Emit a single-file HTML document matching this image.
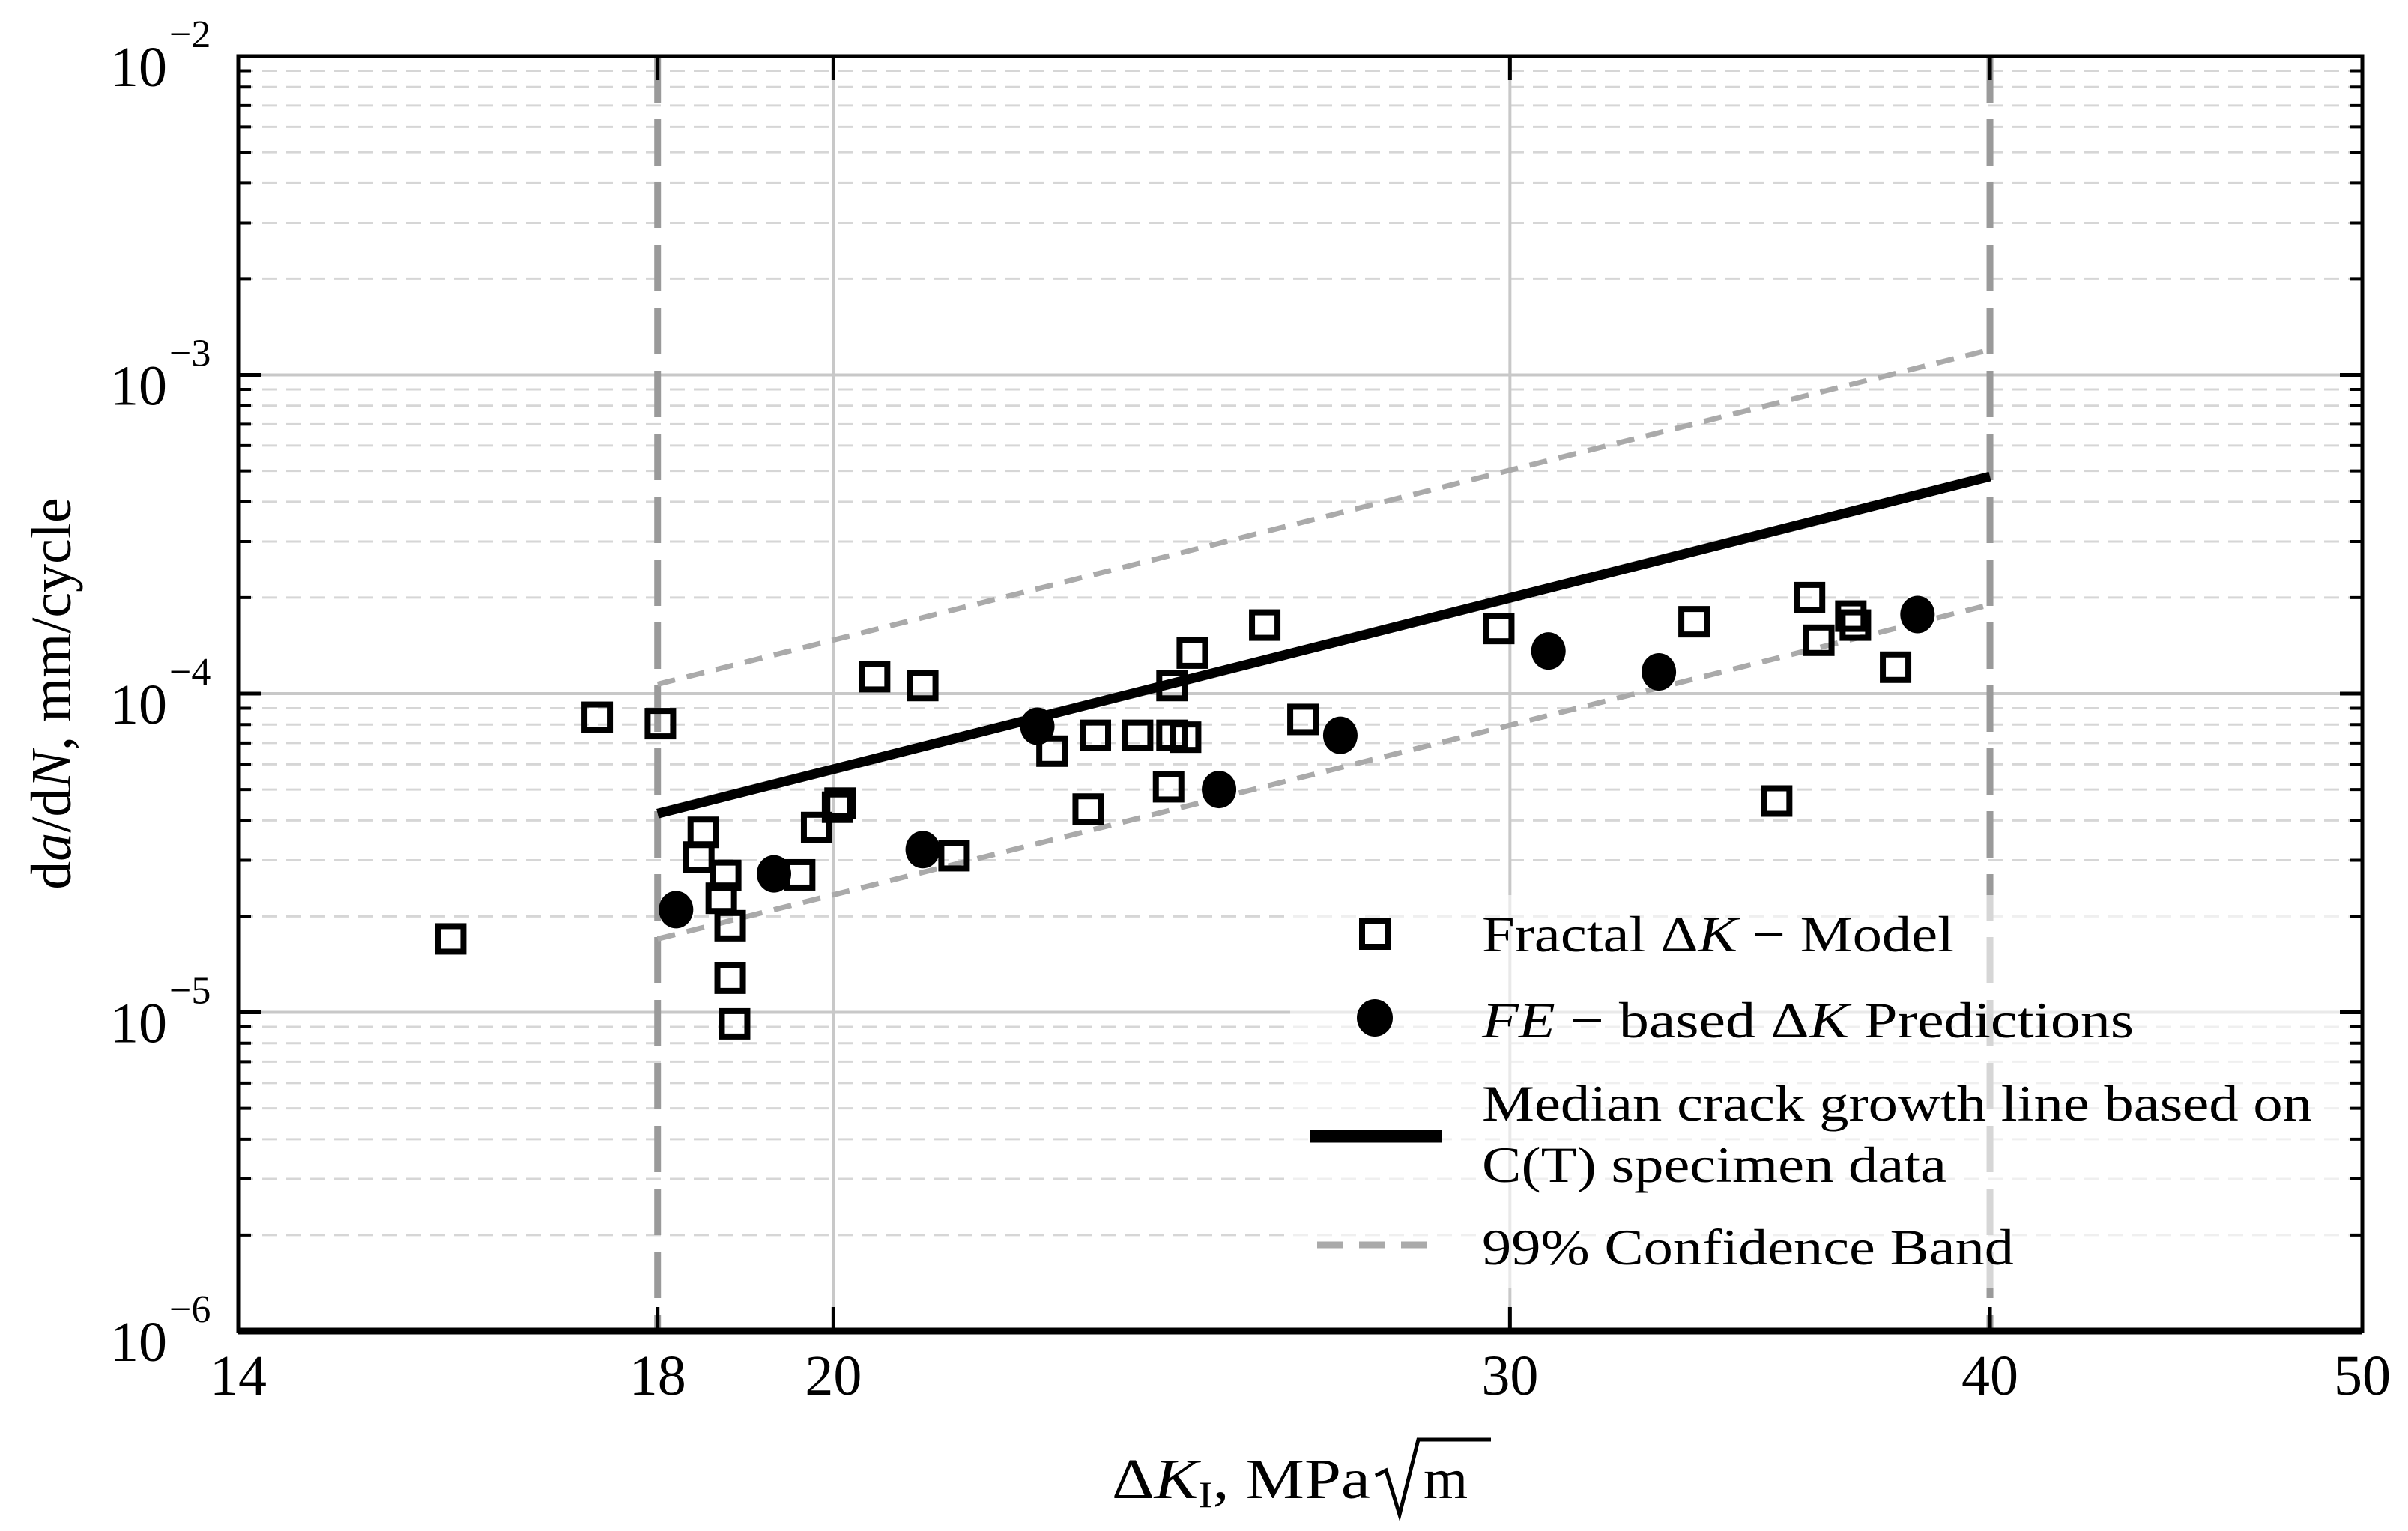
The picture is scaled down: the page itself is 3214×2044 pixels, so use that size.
<!DOCTYPE html>
<html><head><meta charset="utf-8"><style>
html,body{margin:0;padding:0;background:#fff;}
svg{display:block;font-family:"Liberation Serif",serif;}
</style></head><body>
<svg id="chart" width="3214" height="2044" viewBox="0 0 3214 2044" xmlns="http://www.w3.org/2000/svg">
<g id="grid"></g>
<g id="bands"></g>
<g id="marks"></g>
<g id="axes"></g>
<g id="legend"></g>
</svg>
<script>
const fractalK = [15.9,17.36,18.03,18.5,18.45,18.75,18.7,18.8,18.8,18.85,19.6,19.8,20.08,20.05,20.5,21.1,21.5,22.8,23.4,23.3,24.0,24.5,24.5,24.45,24.7,24.8,25.9,26.5,29.8,33.5,35.2,35.9,36.1,36.8,36.9,37.8];
const fractalRate = [1.70e-5,8.43e-5,8.05e-5,3.67e-5,3.07e-5,2.69e-5,2.28e-5,1.87e-5,1.28e-5,9.2e-6,2.7e-5,3.8e-5,4.53e-5,4.4e-5,1.13e-4,1.06e-4,3.1e-5,6.6e-5,7.4e-5,4.34e-5,7.4e-5,1.06e-4,7.4e-5,5.1e-5,7.3e-5,1.34e-4,1.64e-4,8.3e-5,1.6e-4,1.68e-4,4.6e-5,2.0e-4,1.47e-4,1.75e-4,1.64e-4,1.21e-4];
const feK = [18.2,19.3,21.1,22.6,25.2,27.1,30.7,32.8,38.3];
const feRate = [2.1e-5,2.72e-5,3.24e-5,7.9e-5,5.0e-5,7.4e-5,1.36e-4,1.17e-4,1.77e-4];
const lineK = [18,40];
const medianRate = [4.2e-5,4.8e-4];
const upperRate = [1.07e-4,1.2e-3];
const lowerRate = [1.7e-5,1.9e-4];
const xTicks = [14,18,20,30,40,50];
const yDecades = [-6,-5,-4,-3,-2];

const L=318,R=3153,T=75,B=1777;
const NS="http://www.w3.org/2000/svg";
function X(v){return L+(Math.log(v/14)/Math.log(50/14))*(R-L);}
function Y(v){return T+(-2-Math.log10(v))/4*(B-T);}
function mk(parent,tag,attrs){const e=document.createElementNS(NS,tag);for(const k in attrs)e.setAttribute(k,attrs[k]);parent.appendChild(e);return e;}
const grid=document.getElementById('grid'),bands=document.getElementById('bands'),marks=document.getElementById('marks'),axes=document.getElementById('axes'),legend=document.getElementById('legend');

for(let d=-6;d<-2;d++){
  for(let m=2;m<=9;m++){
    const y=Y(m*Math.pow(10,d));
    const g=mk(grid,'line',{x1:L,x2:R,y1:y,y2:y,stroke:'#d6d6d6','stroke-width':3,'stroke-dasharray':'20 12'});
    
    
    const t1=mk(axes,'line',{x1:L,x2:L+17,y1:y,y2:y,stroke:'#000','stroke-width':4});
    
    
    const t2=mk(axes,'line',{x1:R-17,x2:R,y1:y,y2:y,stroke:'#000','stroke-width':4});
    
    
  }
}
yDecades.forEach(d=>{
  const y=Y(Math.pow(10,d));
  if(d>-6&&d<-2){
    const g=mk(grid,'line',{x1:L,x2:R,y1:y,y2:y,stroke:'#c8c8c8','stroke-width':4});
    
    
  }
  const t1=mk(axes,'line',{x1:L,x2:L+30,y1:y,y2:y,stroke:'#000','stroke-width':5});
  
  
  const t2=mk(axes,'line',{x1:R-30,x2:R,y1:y,y2:y,stroke:'#000','stroke-width':5});
  
  
  const tx=mk(axes,'text',{x:223,y:y+40,'text-anchor':'end','font-size':76,fill:'#000'});
  tx.textContent='10';
  
  
  const ex=mk(axes,'text',{x:226,y:y-12,'font-size':52,fill:'#000'});
  ex.textContent='\u2212'+(-d);
  
  
});
xTicks.forEach(v=>{
  const x=X(v);
  if(v===20||v===30){
    const g=mk(grid,'line',{x1:x,x2:x,y1:T,y2:B,stroke:'#c8c8c8','stroke-width':4});
    
    
  }
  if(v===18||v===40){
    const g=mk(grid,'line',{x1:x,x2:x,y1:T,y2:B,stroke:'#9a9a9a','stroke-width':9,'stroke-dasharray':'62 22'});
    
    
  }
  const t=mk(axes,'line',{x1:x,x2:x,y1:B-32,y2:B,stroke:'#000','stroke-width':5});
  
  
  const t2=mk(axes,'line',{x1:x,x2:x,y1:T,y2:T+32,stroke:'#000','stroke-width':5});
  
  
  const tx=mk(axes,'text',{x:x,y:1862,'text-anchor':'middle','font-size':76,fill:'#000'});
  tx.textContent=String(v);
  
  
});
const lb=mk(grid,'rect',{x:1722,y:1195,width:1420,height:525,fill:'#fff','fill-opacity':0.6});



function fitLine(rates,attrs,name){
  const e=mk(bands,'line',Object.assign({x1:X(lineK[0]),y1:Y(rates[0]),x2:X(lineK[1]),y2:Y(rates[1])},attrs));
  
  
}
fitLine(upperRate,{stroke:'#aaa','stroke-width':7,'stroke-dasharray':'24 16'},'upper-confidence-band');
fitLine(lowerRate,{stroke:'#aaa','stroke-width':7,'stroke-dasharray':'24 16'},'lower-confidence-band');
fitLine(medianRate,{stroke:'#000','stroke-width':13},'median-line');

fractalK.forEach((k,i)=>{
  const s=mk(marks,'rect',{x:X(k)-17,y:Y(fractalRate[i])-17,width:34,height:34,fill:'none',stroke:'#000','stroke-width':8});
  
  
});
feK.forEach((k,i)=>{
  const c=mk(marks,'ellipse',{cx:X(k),cy:Y(feRate[i]),rx:23,ry:25,fill:'#000'});
  
  
});
const fr=mk(axes,'rect',{x:L,y:T,width:R-L,height:B-T,fill:'none',stroke:'#000','stroke-width':5});


const fb=mk(axes,'line',{x1:L,x2:R,y1:B,y2:B,stroke:'#000','stroke-width':9});



function ltext(y,html,len,name){
  const t=mk(legend,'text',{x:1978,y:y,'font-size':68,fill:'#000',textLength:len,lengthAdjust:'spacingAndGlyphs'});
  t.innerHTML=html;
  
  
}
const s1=mk(legend,'rect',{x:1818,y:1230,width:34,height:34,fill:'none',stroke:'#000','stroke-width':8});


ltext(1270,'Fractal \u0394<tspan font-style="italic">K</tspan> \u2212 Model',630,'legend-fractal-label');
const c1=mk(legend,'ellipse',{cx:1835,cy:1359,rx:24,ry:25,fill:'#000'});


ltext(1385,'<tspan font-style="italic">FE</tspan> \u2212  based \u0394<tspan font-style="italic">K</tspan> Predictions',870,'legend-fe-label');
const m1=mk(legend,'line',{x1:1748,x2:1925,y1:1517,y2:1517,stroke:'#000','stroke-width':17});


ltext(1496,'Median crack growth line based on',1108,'legend-median-label');
ltext(1578,'C(T) specimen data',620,'legend-median-label-line2');
const d1=mk(legend,'line',{x1:1758,x2:1912,y1:1662,y2:1662,stroke:'#aaa','stroke-width':9,'stroke-dasharray':'34 22'});


ltext(1688,'99% Confidence Band',710,'legend-band-label');

const yt=mk(axes,'text',{transform:'translate(94,926) rotate(-90)','text-anchor':'middle','font-size':76,fill:'#000'});
yt.innerHTML='d<tspan font-style="italic">a</tspan>/d<tspan font-style="italic">N</tspan>, mm/cycle';


const xt=mk(axes,'text',{x:1484,y:2000,'font-size':76,fill:'#000',textLength:345,lengthAdjust:'spacingAndGlyphs'});
xt.innerHTML='\u0394<tspan font-style="italic">K</tspan><tspan font-size="50" dy="12">I</tspan><tspan dy="-12">, MPa</tspan>';


const sq=mk(axes,'path',{d:'M1836,1970 L1850,1963 L1868,2022 L1893,1922 L1990,1922',fill:'none',stroke:'#000','stroke-width':5});


const mt=mk(axes,'text',{x:1900,y:2000,'font-size':76,fill:'#000'});
mt.textContent='m';


</script>
</body></html>
